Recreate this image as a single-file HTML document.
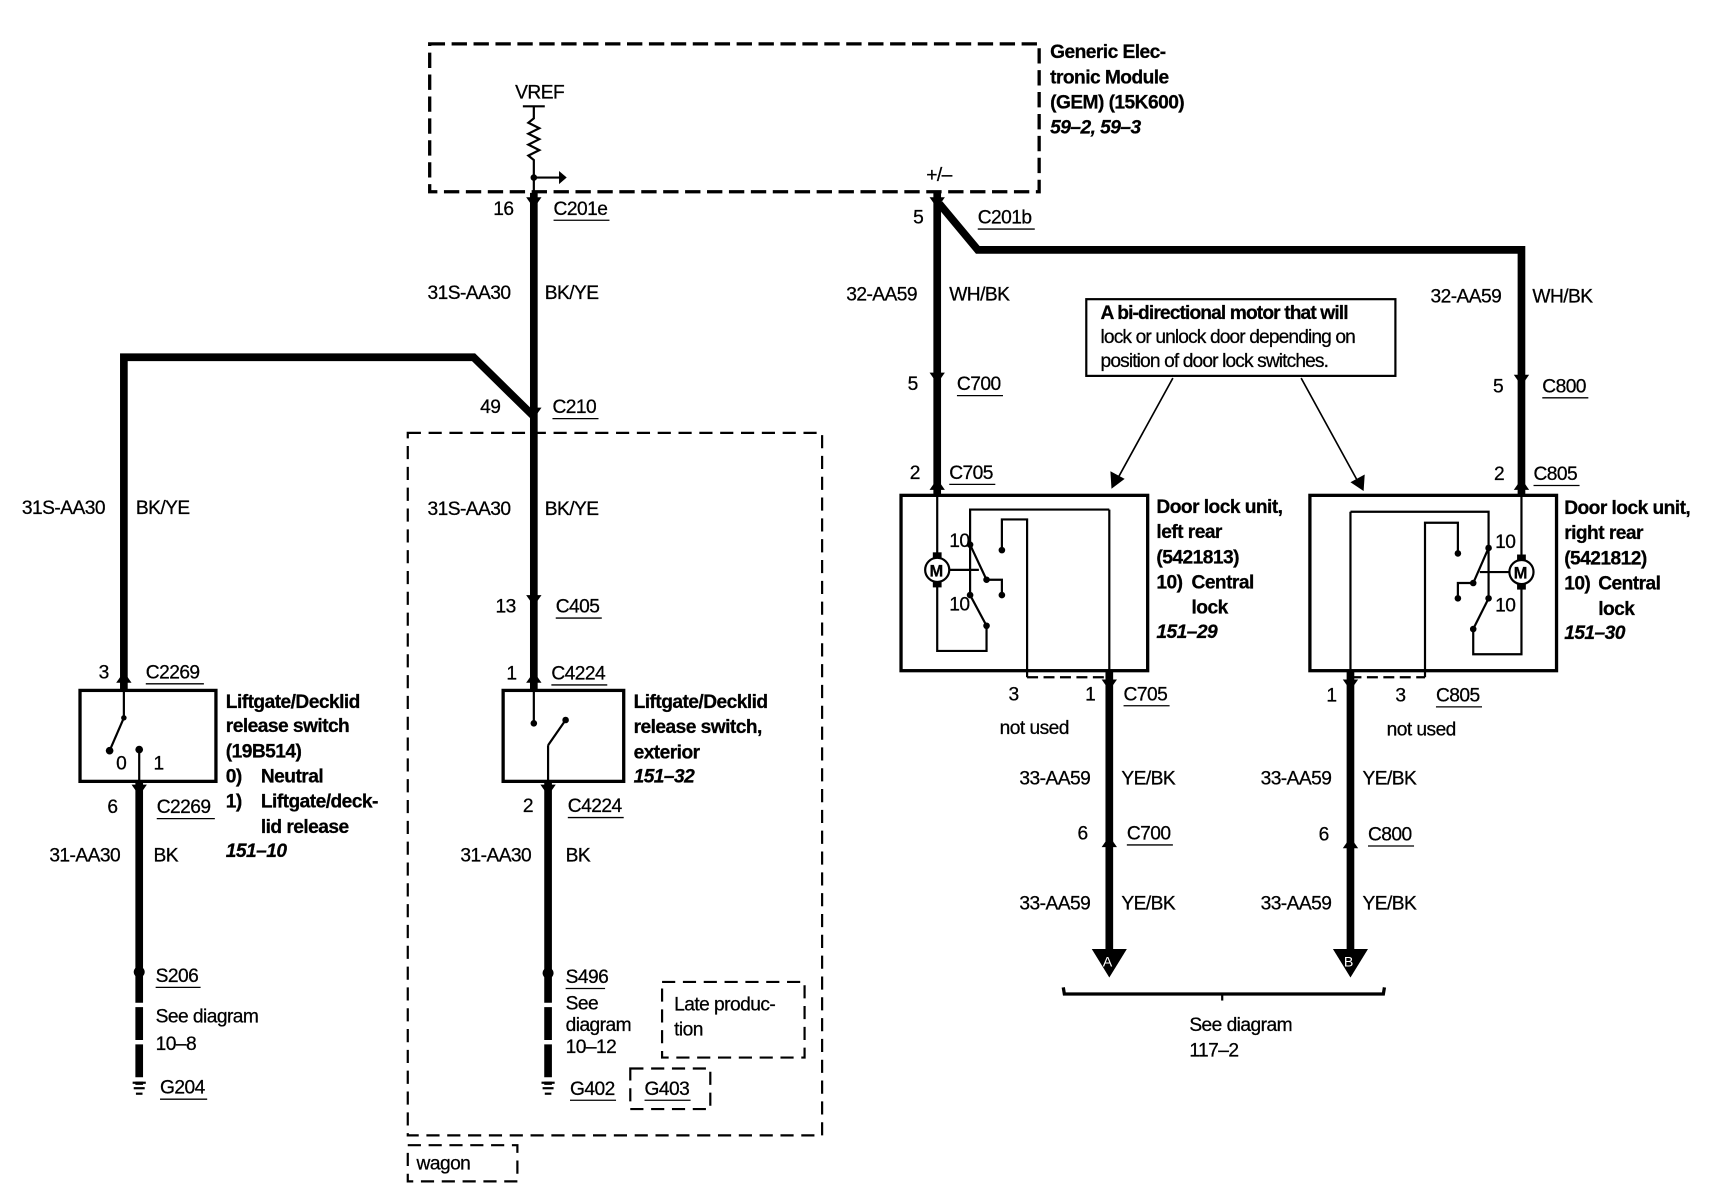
<!DOCTYPE html>
<html><head><meta charset="utf-8"><style>
html,body{margin:0;padding:0;background:#fff;}
svg{display:block;}
text{font-family:"Liberation Sans",sans-serif;font-size:17.5px;fill:#000;letter-spacing:-0.5px;stroke:#000;stroke-width:0.25px;}
.b{font-weight:bold;}
.i{font-weight:bold;font-style:italic;}
.w{stroke:#000;stroke-width:7;fill:none;}
.t{stroke:#000;stroke-width:2;fill:none;}
.d{stroke:#000;stroke-width:3;fill:none;stroke-dasharray:14 6;}
.dt{stroke:#000;stroke-width:2;fill:none;stroke-dasharray:12 7;}
.u{stroke:#000;stroke-width:1.2;}
</style></head><body>
<svg width="1710" height="1200" viewBox="0 0 1560 1095" preserveAspectRatio="none" xmlns="http://www.w3.org/2000/svg">
<!-- GEM -->
<rect x="392" y="40" width="556" height="135" class="d"/>
<text x="958" y="53" class="b">Generic Elec-</text>
<text x="958" y="76" class="b">tronic Module</text>
<text x="958" y="99" class="b">(GEM) (15K600)</text>
<text x="958" y="122" class="i">59–2, 59–3</text>
<text x="470" y="90">VREF</text>
<line x1="477" y1="97" x2="497" y2="97" class="t"/>
<polyline points="487,97 487,108 482,112 492,117 482,122 492,127 482,132 492,137 482,142 487,146 487,175" class="t"/>
<circle cx="487" cy="162" r="3"/>
<line x1="487" y1="162" x2="512" y2="162" class="t"/>
<polygon points="510,156 517,162 510,168"/>
<text x="845" y="165">+/–</text>

<!-- main left wire -->
<line x1="487" y1="176" x2="487" y2="630" class="w"/>
<polygon points="480,180 494,180 487,190"/>
<text x="450" y="196">16</text><text x="505" y="196">C201e</text><line x1="505" y1="201" x2="556" y2="201" class="u"/>
<text x="390" y="273">31S-AA30</text><text x="497" y="273">BK/YE</text>
<polyline points="487,380 432,326 113,326 113,630" class="w"/>
<polygon points="480,372 494,372 487,382"/>
<text x="438" y="377">49</text><text x="504" y="377">C210</text><line x1="504" y1="382" x2="546" y2="382" class="u"/>
<text x="20" y="469">31S-AA30</text><text x="124" y="469">BK/YE</text>
<text x="390" y="470">31S-AA30</text><text x="497" y="470">BK/YE</text>
<polygon points="480,543 494,543 487,553"/>
<text x="452" y="559">13</text><text x="507" y="559">C405</text><line x1="507" y1="564" x2="549" y2="564" class="u"/>
<polygon points="480,623 494,623 487,613"/>
<text x="462" y="620">1</text><text x="503" y="620">C4224</text><line x1="503" y1="625" x2="554" y2="625" class="u"/>

<!-- wagon boxes -->
<rect x="372" y="395" width="378" height="641" class="dt"/>
<rect x="372" y="1045" width="100" height="33" class="dt"/>
<text x="380" y="1067">wagon</text>

<!-- middle switch -->
<rect x="459" y="630" width="110" height="83" class="t" style="stroke-width:3"/>
<text x="578" y="646" class="b">Liftgate/Decklid</text>
<text x="578" y="669" class="b">release switch,</text>
<text x="578" y="692" class="b">exterior</text>
<text x="578" y="714" class="i">151–32</text>
<line x1="487" y1="630" x2="487" y2="660" class="t"/><circle cx="487" cy="660" r="3"/>
<line x1="500" y1="680" x2="516" y2="657" class="t"/><circle cx="516" cy="657" r="3"/>
<line x1="500" y1="680" x2="500" y2="713" class="t"/>
<line x1="500" y1="713" x2="500" y2="885" class="w"/>
<line x1="500" y1="885" x2="500" y2="990" class="w" style="stroke-dasharray:30 4"/>
<polygon points="493,716 507,716 500,726"/>
<text x="477" y="741">2</text><text x="518" y="741">C4224</text><line x1="518" y1="746" x2="569" y2="746" class="u"/>
<text x="420" y="786">31-AA30</text><text x="516" y="786">BK</text>
<circle cx="500" cy="888" r="5"/>
<text x="516" y="897">S496</text><line x1="516" y1="902" x2="552" y2="902" class="u"/>
<text x="516" y="921">See</text><text x="516" y="941">diagram</text><text x="516" y="961">10–12</text>
<line x1="494" y1="988" x2="506" y2="988" class="t"/><line x1="495" y1="993" x2="505" y2="993" class="t"/><line x1="497" y1="998" x2="503" y2="998" class="t"/>
<text x="520" y="999">G402</text><line x1="520" y1="1004" x2="562" y2="1004" class="u"/>
<rect x="575" y="975" width="73" height="37" class="dt"/>
<text x="588" y="999">G403</text><line x1="588" y1="1004" x2="630" y2="1004" class="u"/>
<rect x="604" y="896" width="130" height="69" class="dt"/>
<text x="615" y="922">Late produc-</text><text x="615" y="945">tion</text>

<!-- left switch -->
<polygon points="106,623 120,623 113,613"/>
<text x="90" y="619">3</text><text x="133" y="619">C2269</text><line x1="133" y1="624" x2="186" y2="624" class="u"/>
<rect x="73" y="630" width="124" height="83" class="t" style="stroke-width:3"/>
<line x1="113" y1="630" x2="113" y2="655" class="t"/><circle cx="113" cy="655" r="2.5"/>
<line x1="113" y1="655" x2="100" y2="685" class="t"/><circle cx="100" cy="685" r="3.5"/>
<circle cx="127" cy="684" r="3.5"/><line x1="127" y1="684" x2="127" y2="713" class="t"/>
<text x="106" y="702">0</text><text x="140" y="702">1</text>
<line x1="127" y1="713" x2="127" y2="885" class="w"/>
<line x1="127" y1="885" x2="127" y2="990" class="w" style="stroke-dasharray:30 4"/>
<polygon points="120,716 134,716 127,726"/>
<text x="98" y="742">6</text><text x="143" y="742">C2269</text><line x1="143" y1="747" x2="196" y2="747" class="u"/>
<text x="45" y="786">31-AA30</text><text x="140" y="786">BK</text>
<text x="206" y="646" class="b">Liftgate/Decklid</text>
<text x="206" y="668" class="b">release switch</text>
<text x="206" y="691" class="b">(19B514)</text>
<text x="206" y="714" class="b">0)</text><text x="238" y="714" class="b">Neutral</text>
<text x="206" y="737" class="b">1)</text><text x="238" y="737" class="b">Liftgate/deck-</text>
<text x="238" y="760" class="b">lid release</text>
<text x="206" y="782" class="i">151–10</text>
<circle cx="127" cy="887" r="5"/>
<text x="142" y="896">S206</text><line x1="142" y1="901" x2="183" y2="901" class="u"/>
<text x="142" y="933">See diagram</text><text x="142" y="958">10–8</text>
<line x1="121" y1="988" x2="133" y2="988" class="t"/><line x1="122" y1="993" x2="132" y2="993" class="t"/><line x1="124" y1="998" x2="130" y2="998" class="t"/>
<text x="146" y="998">G204</text><line x1="146" y1="1003" x2="189" y2="1003" class="u"/>

<!-- right side wires -->
<line x1="855" y1="176" x2="855" y2="452" class="w"/>
<polyline points="857,186 892,228 1388,228 1388,452" class="w"/>
<polygon points="848,180 862,180 855,190"/>
<text x="833" y="204">5</text><text x="892" y="204">C201b</text><line x1="892" y1="209" x2="944" y2="209" class="u"/>
<text x="772" y="274">32-AA59</text><text x="866" y="274">WH/BK</text>
<text x="1305" y="276">32-AA59</text><text x="1398" y="276">WH/BK</text>
<polygon points="848,340 862,340 855,350"/>
<text x="828" y="356">5</text><text x="873" y="356">C700</text><line x1="873" y1="361" x2="915" y2="361" class="u"/>
<polygon points="1381,342 1395,342 1388,352"/>
<text x="1362" y="358">5</text><text x="1407" y="358">C800</text><line x1="1407" y1="363" x2="1449" y2="363" class="u"/>
<polygon points="848,447 862,447 855,437"/>
<text x="830" y="437">2</text><text x="866" y="437">C705</text><line x1="866" y1="442" x2="908" y2="442" class="u"/>
<polygon points="1381,447 1395,447 1388,437"/>
<text x="1363" y="438">2</text><text x="1399" y="438">C805</text><line x1="1399" y1="443" x2="1441" y2="443" class="u"/>

<!-- note -->
<rect x="991" y="273" width="282" height="70" class="t"/>
<text x="1004" y="291" class="b" style="letter-spacing:-0.8px">A bi-directional motor that will</text>
<text x="1004" y="313" style="letter-spacing:-0.8px">lock or unlock door depending on</text>
<text x="1004" y="335" style="letter-spacing:-0.8px">position of door lock switches.</text>
<line x1="1070" y1="345" x2="1020" y2="436" class="t" style="stroke-width:1.5"/>
<polygon points="1014,446 1013,430 1026,437"/>
<line x1="1187" y1="345" x2="1238" y2="438" class="t" style="stroke-width:1.5"/>
<polygon points="1244,448 1232,440 1245,433"/>

<!-- left door unit -->
<rect x="822" y="452" width="225" height="160" class="t" style="stroke-width:3"/>
<line x1="855" y1="452" x2="855" y2="507" class="t"/>
<rect x="851" y="504" width="8" height="5"/><rect x="851" y="531" width="8" height="5"/>
<circle cx="855" cy="520" r="11" fill="#fff" stroke="#000" stroke-width="2"/>
<text x="848" y="526" style="font-size:15px" class="b">M</text>
<polyline points="855,534 855,594 900,594 900,571" class="t"/>
<polyline points="885,497 885,465 1012,465" class="t"/>
<line x1="866" y1="520" x2="893" y2="520" class="t"/>
<line x1="885" y1="497" x2="900" y2="529" class="t"/><circle cx="885" cy="497" r="3"/><circle cx="900" cy="529" r="3"/>
<polyline points="900,529 914,529 914,543" class="t"/><circle cx="914" cy="543" r="3"/>
<line x1="885" y1="497" x2="885" y2="543" class="t"/>
<line x1="885" y1="543" x2="900" y2="571" class="t"/><circle cx="885" cy="543" r="3"/><circle cx="900" cy="571" r="3"/>
<polyline points="914,502 914,474 937,474 937,618" class="t"/><circle cx="914" cy="502" r="3"/>
<line x1="937" y1="618" x2="1012" y2="618" class="t" style="stroke-dasharray:10 5"/>
<text x="866" y="499">10</text><text x="866" y="557">10</text>
<line x1="1012" y1="465" x2="1012" y2="612" class="t"/>
<line x1="1012" y1="612" x2="1012" y2="868" class="w"/>
<polygon points="1005,620 1019,620 1012,630"/>
<polygon points="996,866 1028,866 1012,892"/>
<text x="1006" y="882" style="font-size:13px;fill:#fff;stroke:none">A</text>
<text x="1055" y="468" class="b">Door lock unit,</text>
<text x="1055" y="491" class="b">left rear</text>
<text x="1055" y="514" class="b">(5421813)</text>
<text x="1055" y="537" class="b">10)</text><text x="1087" y="537" class="b">Central</text>
<text x="1087" y="560" class="b">lock</text>
<text x="1055" y="582" class="i">151–29</text>
<text x="920" y="639">3</text><text x="990" y="639">1</text><text x="1025" y="639">C705</text><line x1="1025" y1="644" x2="1067" y2="644" class="u"/>
<text x="912" y="670">not used</text>
<text x="930" y="716">33-AA59</text><text x="1023" y="716">YE/BK</text>
<polygon points="1005,773 1019,773 1012,763"/>
<text x="983" y="766">6</text><text x="1028" y="766">C700</text><line x1="1028" y1="771" x2="1070" y2="771" class="u"/>
<text x="930" y="830">33-AA59</text><text x="1023" y="830">YE/BK</text>

<!-- right door unit -->
<rect x="1195" y="452" width="225" height="160" class="t" style="stroke-width:3"/>
<line x1="1388" y1="452" x2="1388" y2="509" class="t"/>
<rect x="1384" y="506" width="8" height="5"/><rect x="1384" y="533" width="8" height="5"/>
<circle cx="1388" cy="522" r="11" fill="#fff" stroke="#000" stroke-width="2"/>
<text x="1381" y="528" style="font-size:15px" class="b">M</text>
<polyline points="1388,536 1388,597 1344,597 1344,574" class="t"/>
<polyline points="1358,500 1358,467 1232,467" class="t"/>
<line x1="1377" y1="522" x2="1350" y2="522" class="t"/>
<line x1="1358" y1="500" x2="1344" y2="532" class="t"/><circle cx="1358" cy="500" r="3"/><circle cx="1344" cy="532" r="3"/>
<polyline points="1344,532 1330,532 1330,546" class="t"/><circle cx="1330" cy="546" r="3"/>
<line x1="1358" y1="500" x2="1358" y2="546" class="t"/>
<line x1="1358" y1="546" x2="1344" y2="574" class="t"/><circle cx="1358" cy="546" r="3"/><circle cx="1344" cy="574" r="3"/>
<polyline points="1330,505 1330,477 1300,477 1300,618" class="t"/><circle cx="1330" cy="505" r="3"/>
<line x1="1232" y1="618" x2="1300" y2="618" class="t" style="stroke-dasharray:10 5"/>
<text x="1364" y="500">10</text><text x="1364" y="558">10</text>
<line x1="1232" y1="467" x2="1232" y2="612" class="t"/>
<line x1="1232" y1="612" x2="1232" y2="868" class="w"/>
<polygon points="1225,620 1239,620 1232,630"/>
<polygon points="1216,866 1248,866 1232,892"/>
<text x="1226" y="882" style="font-size:13px;fill:#fff;stroke:none">B</text>
<text x="1427" y="469" class="b">Door lock unit,</text>
<text x="1427" y="492" class="b">right rear</text>
<text x="1427" y="515" class="b">(5421812)</text>
<text x="1427" y="538" class="b">10)</text><text x="1458" y="538" class="b">Central</text>
<text x="1458" y="561" class="b">lock</text>
<text x="1427" y="583" class="i">151–30</text>
<text x="1210" y="640">1</text><text x="1273" y="640">3</text><text x="1310" y="640">C805</text><line x1="1310" y1="645" x2="1352" y2="645" class="u"/>
<text x="1265" y="671">not used</text>
<text x="1150" y="716">33-AA59</text><text x="1243" y="716">YE/BK</text>
<polygon points="1225,774 1239,774 1232,764"/>
<text x="1203" y="767">6</text><text x="1248" y="767">C800</text><line x1="1248" y1="772" x2="1290" y2="772" class="u"/>
<text x="1150" y="830">33-AA59</text><text x="1243" y="830">YE/BK</text>

<!-- bracket -->
<polyline points="970,901 971,907 1262,907 1263,901" class="t" style="stroke-width:3"/>
<line x1="1115" y1="907" x2="1115" y2="913" class="t" style="stroke-width:2"/>
<text x="1085" y="941">See diagram</text>
<text x="1085" y="964">117–2</text>
</svg>
</body></html>
